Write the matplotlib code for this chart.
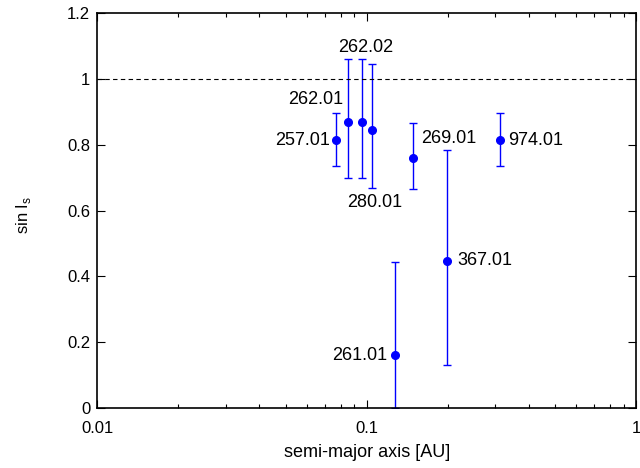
import numpy as np
import matplotlib
matplotlib.use('Agg')
import matplotlib.pyplot as plt

plt.rcParams['font.family'] = ['Liberation Sans', 'DejaVu Sans']

names = ['257.01', '262.01', '262.02', '280.01', '269.01', '261.01', '367.01', '974.01']
a_au = [0.0767, 0.0851, 0.0958, 0.1044, 0.148, 0.127, 0.198, 0.313]
sin_i = [0.814, 0.869, 0.869, 0.845, 0.760, 0.161, 0.447, 0.814]
err_lo = [0.735, 0.700, 0.700, 0.670, 0.665, 0.0, 0.130, 0.735]
err_hi = [0.895, 1.060, 1.060, 1.045, 0.865, 0.445, 0.785, 0.895]

# label offsets in points (dx, dy) and horizontal alignment
offsets = {
    '257.01': (-4, 0, 'right'),
    '262.01': (-3, 16, 'right'),
    '262.02': (3, 54, 'center'),
    '280.01': (2, -52, 'center'),
    '269.01': (6.5, 14, 'left'),
    '261.01': (-5, 0, 'right'),
    '367.01': (8, 0, 'left'),
    '974.01': (6, 0, 'left'),
}

fig = plt.figure(figsize=(6.4, 4.68), dpi=100)
ax = fig.add_axes([0.152, 0.128, 0.842, 0.844])

y = np.array(sin_i)
lo = y - np.array(err_lo)
hi = np.array(err_hi) - y
ax.errorbar(a_au, y, yerr=[lo, hi], fmt='o', color='#0000ff', ms=5.5,
            ecolor='#0000ff', elinewidth=1, capsize=3, capthick=1)

ax.axhline(1.0, color='black', ls=(0, (4, 3)), lw=0.8)

for n, xx, yy in zip(names, a_au, sin_i):
    dx, dy, ha = offsets[n]
    ax.annotate(n, (xx, yy), xytext=(dx, dy), textcoords='offset points',
                ha=ha, va='center', fontsize=13)

ax.set_xscale('log')
ax.set_xlim(0.01, 1)
ax.set_ylim(0, 1.2)
ax.set_yticks([0, 0.2, 0.4, 0.6, 0.8, 1.0, 1.2])
ax.set_yticklabels(['0', '0.2', '0.4', '0.6', '0.8', '1', '1.2'])
ax.set_xticks([0.01, 0.1, 1])
ax.set_xticklabels(['0.01', '0.1', '1'])
ax.tick_params(which='both', direction='in', top=True, right=True, labelsize=12)
ax.tick_params(which='major', length=6, width=0.8)
ax.tick_params(which='minor', length=3, width=0.8)
ax.tick_params(axis='y', pad=5)
ax.tick_params(axis='x', pad=9)
for s in ax.spines.values():
    s.set_linewidth(1.2)

ax.set_xlabel('semi-major axis [AU]', fontsize=13)
ax.xaxis.set_label_coords(0.5, -0.09)
ax.set_ylabel(r'sin I$_\mathregular{s}$', fontsize=12)
ax.yaxis.set_label_coords(-0.12, 0.49)

fig.savefig('out.png', dpi=100)
